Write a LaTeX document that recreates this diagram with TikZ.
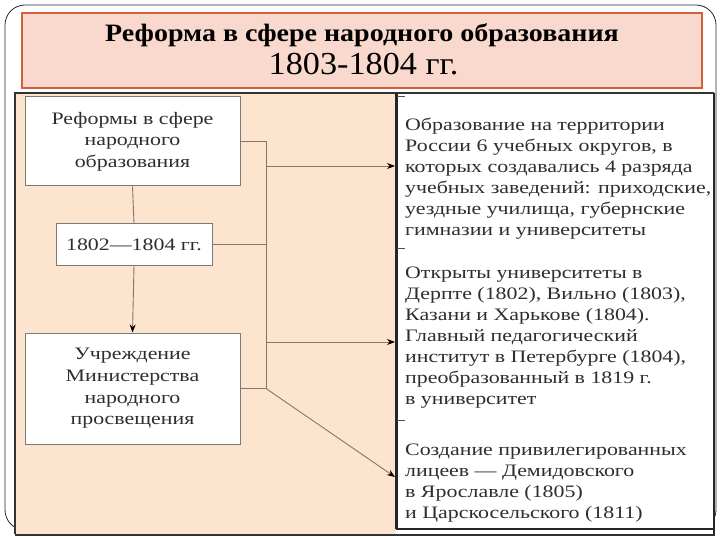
\documentclass[tikz,border=0pt]{standalone}
\usepackage{fontspec}
\setmainfont{Liberation Serif}
\newfontfamily\diagfont[FakeStretch=1.25]{Liberation Serif}
\newfontfamily\titlefont[FakeStretch=1.12]{Liberation Serif}
\newfontfamily\yearfont[FakeStretch=1.07]{Liberation Serif}
\usetikzlibrary{arrows.meta}
\definecolor{titlefill}{HTML}{F9D8CD}
\definecolor{titleline}{HTML}{D2603A}
\definecolor{peach}{HTML}{FCE4CE}
\definecolor{boxline}{HTML}{7A7A7A}
\definecolor{conn}{HTML}{8A7563}
\definecolor{txt}{HTML}{2E2E2E}
\tikzset{
  leftbox/.style={draw=boxline, fill=white, line width=1pt, align=center,
    font=\diagfont\fontsize{17.5}{21.6}\selectfont, text=txt, inner sep=0pt},
  paneltext/.style={align=left, anchor=west, inner sep=0pt,
    font=\diagfont\fontsize{17.5}{21}\selectfont, text=txt},
  titletext/.style={anchor=base, inner sep=0pt, text=black},
  connline/.style={draw=conn, line width=0.9pt},
  connarrow/.style={connline, -{Stealth[length=8pt, width=6pt, color=black]}},
  tick/.style={draw=black!70, line width=0.8pt}
}
\begin{document}
\begin{tikzpicture}[x=1pt, y=-1pt]
\useasboundingbox (0,0) rectangle (720,540);
% slide frame
\draw[rounded corners=20pt, line width=0.8pt, black!85] (5,5) rectangle (716,530);
% title
\node[draw=titleline, fill=titlefill, line width=1.6pt, minimum width=680pt,
  minimum height=75pt, inner sep=0pt] (title) at (362,50.5) {};
\node[titletext, font=\titlefont\bfseries\fontsize{25}{30}\selectfont] (title1) at (362,41.7)
  {Реформа в сфере народного образования};
\node[titletext, font=\yearfont\fontsize{32}{36}\selectfont] (title2) at (363.5,75)
  {1803-1804 гг.};
% picture background
\fill[peach] (15,93) rectangle (396,534);
\fill[white] (396,93) rectangle (715,534);
\draw[line width=2pt, black!80] (15,534) -- (15,93) -- (714,93);
\draw[line width=3pt, black!85] (396,93) -- (396,529);
\draw[line width=2.5pt, black!85] (714,93) -- (714,535);
\draw[line width=2pt, black!85] (396,528.5) -- (714,528.5);
\draw[line width=2.4pt, black!80] (15,535) -- (715,535);
% left boxes
\node[leftbox, minimum width=215pt, minimum height=89pt] (b1) at (132.5,141.5)
  {Реформы в сфере\\народного\\образования};
\node[leftbox, minimum width=156pt, minimum height=41pt] (b2) at (134,244.5)
  {1802—1804 гг.};
\node[leftbox, minimum width=215pt, minimum height=111pt] (b3) at (132.5,388.5)
  {Учреждение\\Министерства\\народного\\просвещения};
% panel texts
\node[paneltext] (t1) at (405,179)
  {Образование на территории\\России 6 учебных округов, в\\которых создавались 4 разряда\\учебных заведений: приходские,\\уездные училища, губернские\\гимназии и университеты};
\node[paneltext] (t2) at (405,337.5)
  {Открыты университеты в\\Дерпте (1802), Вильно (1803),\\Казани и Харькове (1804).\\Главный педагогический\\институт в Петербурге (1804),\\преобразованный в 1819 г.\\в университет};
\node[paneltext] (t3) at (405,483.5)
  {Создание привилегированных\\лицеев — Демидовского\\в Ярославле (1805)\\и Царскосельского (1811)};
% ticks on panel border
\coordinate (k1) at (397,96);
\coordinate (k2) at (397,248);
\coordinate (k3) at (397,420);
\draw[tick] (k1) -- ++(8,0);
\draw[tick] (k2) -- ++(8,0);
\draw[tick] (k3) -- ++(8,0);
% connectors
\coordinate (bus) at (266,0);
\coordinate (a1) at (266,166);
\coordinate (a2) at (266,342);
\coordinate (e1) at (395,166);
\coordinate (e2) at (395,342);
\coordinate (e3) at (395,477);
\draw[connline] (b1.south) -- (b2.north);
\draw[connarrow] (b2.south) -- (b3.north);
\draw[connline] (b1.east) -- (b1.east -| bus) -- (b3.east -| bus) -- (b3.east);
\draw[connline] (b2.east) -- (b2.east -| bus);
\draw[connarrow] (a1) -- (e1);
\draw[connarrow] (a2) -- (e2);
\draw[connarrow] (b3.east -| bus) -- (e3);
\end{tikzpicture}
\end{document}
